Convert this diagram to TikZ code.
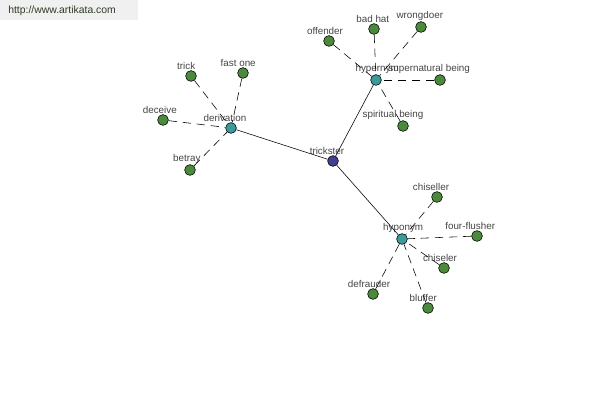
\documentclass[tikz,border=0pt]{standalone}
\usepackage{fontspec}
\setmainfont{Liberation Sans}
\definecolor{leafgreen}{HTML}{4B8A3C}
\definecolor{hubteal}{HTML}{3C9A9C}
\definecolor{rootblue}{HTML}{40408F}
\definecolor{lblgray}{HTML}{444444}
\definecolor{urltext}{HTML}{2E3A22}
\begin{document}
\begin{tikzpicture}[x=0.025cm, y=-0.025cm,
    dot/.style={circle, draw=black, line width=0.4pt, inner sep=0pt, minimum size=0.27cm},
    leaf/.style={dot, fill=leafgreen},
    hub/.style={dot, fill=hubteal},
    root/.style={dot, fill=rootblue},
    lbl/.style={font=\fontsize{7}{8}\selectfont, text=lblgray, inner sep=0.5pt, label distance=0pt},
    rel/.style={line width=0.4pt, black},
    syn/.style={line width=0.4pt, black, dash pattern=on 6pt off 4pt}]

    % Rahmen
    \useasboundingbox (0,0) rectangle (600,400);

    % Kopfzeile mit Adresse
    \fill[gray!12] (0,0) rectangle (138,20);
    \node[anchor=west, font=\fontsize{7.4}{9}\selectfont, text=urltext, inner sep=0pt] (url) at (8,11) {http://www.artikata.com};

    % Wurzel
    \node[root, label={[lbl, xshift=-0.15cm]above:trickster}] (trickster) at (333,161) {};

    % Knoten der Relationen
    \node[hub, label={[lbl, xshift=-0.15cm]above:derivation}] (derivation) at (231,128) {};
    \node[hub, label={[lbl, xshift=0.03cm]above:hypernym}] (hypernym) at (376,80) {};
    \node[hub, label={[lbl, xshift=0.03cm]above:hyponym}] (hyponym) at (402,239) {};

    % Blaetter: derivation
    \node[leaf, label={[lbl, xshift=-0.12cm]above:trick}] (trick) at (191,76) {};
    \node[leaf, label={[lbl, xshift=-0.12cm]above:fast one}] (fastone) at (243,73) {};
    \node[leaf, label={[lbl, xshift=-0.08cm]above:deceive}] (deceive) at (163,120) {};
    \node[leaf, label={[lbl, xshift=-0.08cm]above:betray}] (betray) at (190,170) {};

    % Blaetter: hypernym
    \node[leaf, label={[lbl, xshift=-0.1cm]above:offender}] (offender) at (329,41) {};
    \node[leaf, label={[lbl, xshift=-0.03cm]above:bad hat}] (badhat) at (374,29) {};
    \node[leaf, label={[lbl, xshift=-0.03cm]above:wrongdoer}] (wrongdoer) at (421,27) {};
    \node[leaf, label={[lbl, xshift=-0.27cm]above:supernatural being}] (supernatural) at (440,80) {};
    \node[leaf, label={[lbl, xshift=-0.25cm]above:spiritual being}] (spiritual) at (403,126) {};

    % Blaetter: hyponym
    \node[leaf, label={[lbl, xshift=-0.15cm]above:chiseller}] (chiseller) at (437,197) {};
    \node[leaf, label={[lbl, xshift=-0.17cm]above:four-flusher}] (fourflusher) at (477,236) {};
    \node[leaf, label={[lbl, xshift=-0.1cm]above:chiseler}] (chiseler) at (444,268) {};
    \node[leaf, label={[lbl, xshift=-0.1cm]above:defrauder}] (defrauder) at (373,294) {};
    \node[leaf, label={[lbl, xshift=-0.12cm]above:bluffer}] (bluffer) at (428,308) {};

    % Verbindungen von der Wurzel
    \draw[rel] (trickster) -- (derivation);
    \draw[rel] (trickster) -- (hypernym);
    \draw[rel] (trickster) -- (hyponym);

    % gestrichelte Verbindungen
    \draw[syn] (trick) -- (derivation);
    \draw[syn] (fastone) -- (derivation);
    \draw[syn] (deceive) -- (derivation);
    \draw[syn] (betray) -- (derivation);

    \draw[syn] (offender) -- (hypernym);
    \draw[syn] (badhat) -- (hypernym);
    \draw[syn] (wrongdoer) -- (hypernym);
    \draw[syn] (supernatural) -- (hypernym);
    \draw[syn] (spiritual) -- (hypernym);

    \draw[syn] (chiseller) -- (hyponym);
    \draw[syn] (fourflusher) -- (hyponym);
    \draw[syn] (chiseler) -- (hyponym);
    \draw[syn] (defrauder) -- (hyponym);
    \draw[syn] (bluffer) -- (hyponym);

\end{tikzpicture}
\end{document}
